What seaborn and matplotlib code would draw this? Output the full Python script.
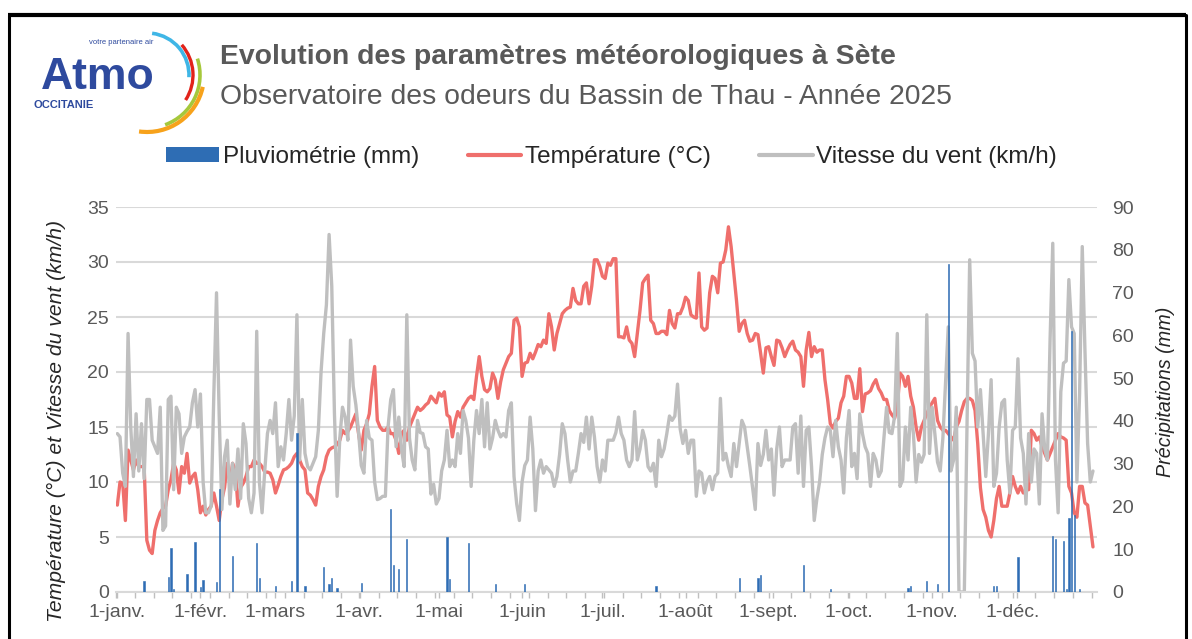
import numpy as np
import pandas as pd
import seaborn as sns
import matplotlib.pyplot as plt
from matplotlib.patches import Arc, Patch
from matplotlib.lines import Line2D

# daily values (1 Jan -> 31 Dec 2025)
temperature = [
    7.9, 10.0, 9.9, 6.5, 12.9, 12.0, 11.1, 12.0, 11.4, 11.4,
    11.4, 4.7, 3.8, 3.5, 5.6, 6.5, 7.2, 7.6, 7.8, 9.3,
    10.2, 11.7, 11.1, 9.0, 11.4, 10.8, 12.6, 9.9, 10.5, 10.8,
    9.3, 7.2, 7.8, 7.0, 7.5, 7.8, 9.0, 7.8, 6.5, 8.4,
    9.5, 11.7, 9.9, 11.7, 11.1, 7.8, 9.5, 9.9, 10.5, 11.4,
    11.4, 12.0, 11.7, 11.7, 11.4, 10.9, 10.9, 10.8, 10.2, 9.0,
    9.7, 10.5, 11.1, 11.2, 11.4, 11.7, 12.3, 12.6, 12.0, 11.4,
    11.1, 9.0, 8.8, 8.4, 7.9, 9.6, 10.5, 11.1, 12.3, 12.9,
    13.1, 13.2, 13.4, 13.8, 14.7, 14.4, 14.6, 15.0, 15.6, 16.2,
    14.4, 12.9, 14.7, 15.3, 16.2, 18.7, 20.5, 15.6, 15.0, 14.7,
    14.7, 15.0, 14.4, 14.4, 13.8, 12.6, 14.4, 14.7, 13.8, 15.0,
    15.6, 16.2, 16.8, 16.5, 16.7, 17.0, 17.2, 17.8, 17.5, 17.2,
    18.1, 17.8, 18.2, 16.1, 15.9, 14.1, 15.5, 16.4, 15.9, 16.8,
    17.2, 17.6, 17.8, 17.5, 19.6, 21.4, 19.6, 18.4, 18.2, 18.5,
    19.9, 19.3, 17.6, 19.1, 20.2, 20.8, 21.4, 21.7, 24.7, 24.9,
    24.1, 19.6, 20.8, 20.9, 21.7, 21.2, 21.8, 22.5, 22.3, 22.9,
    22.6, 25.3, 24.1, 22.0, 23.5, 24.4, 25.3, 25.6, 25.8, 25.9,
    27.6, 26.5, 26.2, 26.2, 27.8, 28.1, 26.2, 27.8, 30.2, 30.2,
    29.6, 28.7, 28.5, 29.9, 29.7, 30.3, 30.3, 23.2, 23.2, 23.1,
    24.1, 22.9, 22.6, 21.4, 23.5, 25.6, 28.1, 28.5, 28.8, 24.7,
    24.4, 23.5, 23.5, 23.7, 23.7, 23.4, 25.6, 24.4, 24.0, 25.3,
    25.3, 25.9, 26.8, 26.5, 25.2, 25.0, 24.9, 29.0, 24.1, 23.8,
    24.0, 27.2, 28.7, 28.5, 27.2, 29.9, 30.0, 31.1, 33.2, 31.4,
    29.0, 26.5, 23.7, 24.4, 24.7, 23.5, 22.8, 22.9, 23.5, 23.4,
    21.7, 19.9, 22.2, 22.3, 21.4, 20.6, 22.9, 22.8, 22.2, 21.4,
    22.0, 22.5, 22.8, 22.0, 21.8, 21.4, 18.7, 22.0, 23.6, 21.4,
    22.3, 21.8, 22.0, 22.0, 19.3, 17.5, 15.3, 14.9, 15.5, 15.8,
    17.2, 17.8, 19.6, 19.6, 19.0, 17.6, 17.6, 20.3, 16.4, 18.0,
    18.1, 18.3, 18.9, 19.3, 18.5, 18.1, 17.5, 17.5, 16.5, 16.1,
    15.8, 16.8, 19.9, 19.6, 18.7, 19.6, 17.8, 16.8, 15.0, 13.8,
    15.0, 15.6, 16.2, 16.8, 17.2, 17.6, 15.6, 15.0, 14.7, 14.7,
    14.4, 14.1, 13.8, 15.0, 15.5, 16.5, 17.3, 17.6, 17.6, 17.4,
    16.5, 13.5, 9.5, 7.5, 6.8, 5.6, 5.0, 6.5, 8.5, 9.6,
    7.8, 7.8, 7.8, 9.0, 10.5, 9.6, 9.0, 9.6, 9.0, 9.3,
    9.3, 14.7, 14.4, 13.8, 14.1, 13.2, 12.6, 12.0, 12.6, 13.2,
    13.8, 14.4, 14.1, 14.0, 13.8, 9.6, 9.0, 7.2, 6.8, 9.6,
    9.6, 8.1, 7.9, 6.0, 4.1,
]

wind_speed = [
    14.4, 14.1, 10.8, 9.6, 23.5, 15.0, 10.5, 16.2, 11.0, 15.3,
    10.3, 17.5, 17.5, 13.8, 13.2, 12.6, 16.8, 5.6, 6.0, 17.5,
    17.8, 9.3, 16.8, 16.2, 12.6, 14.1, 14.6, 15.0, 17.2, 18.4,
    15.0, 18.0, 10.0, 7.2, 7.2, 7.8, 18.0, 27.2, 16.0, 7.5,
    12.3, 13.8, 8.0, 11.7, 9.3, 13.0, 8.5, 15.3, 13.5, 8.5,
    7.2, 9.0, 23.7, 10.0, 7.2, 11.0, 14.4, 15.6, 14.4, 17.2,
    11.4, 13.2, 12.0, 14.4, 17.5, 13.8, 16.0, 25.2, 12.0, 17.5,
    12.6, 11.4, 11.1, 11.7, 12.3, 14.7, 20.0, 23.5, 26.1, 32.5,
    27.8, 16.2, 8.7, 14.0, 16.8, 15.9, 13.8, 22.9, 18.7, 17.0,
    14.5, 11.5, 10.8, 15.6, 14.0, 13.8, 10.0, 8.4, 8.5, 8.7,
    8.7, 15.0, 17.5, 18.4, 13.2, 15.9, 13.0, 11.4, 25.2, 14.0,
    12.0, 11.1, 15.6, 14.5, 14.4, 13.2, 13.0, 8.9, 9.8, 8.0,
    8.5, 11.0, 12.0, 14.7, 11.4, 12.0, 11.4, 14.4, 12.6, 16.5,
    15.6, 14.0, 9.6, 13.8, 16.5, 14.4, 17.5, 13.2, 17.2, 13.0,
    14.0, 15.6, 14.7, 14.1, 14.4, 14.1, 16.5, 17.2, 10.5, 8.0,
    6.5, 10.0, 11.5, 12.0, 15.9, 13.0, 7.4, 11.0, 12.0, 10.8,
    11.4, 11.1, 10.8, 9.6, 10.5, 12.5, 15.3, 14.4, 12.0, 10.0,
    11.0, 11.0, 12.6, 14.4, 13.6, 15.9, 13.0, 15.9, 14.1, 11.4,
    10.0, 12.0, 11.0, 13.8, 13.8, 13.8, 14.5, 15.9, 14.4, 13.8,
    12.0, 11.4, 12.0, 16.4, 12.0, 13.0, 14.7, 13.8, 11.4, 11.0,
    11.7, 9.6, 13.8, 12.3, 13.0, 14.4, 16.0, 15.6, 16.0, 18.9,
    14.8, 13.5, 14.7, 12.6, 13.8, 13.8, 8.7, 11.0, 10.8, 9.0,
    10.0, 10.5, 9.3, 10.5, 10.8, 17.6, 12.0, 12.6, 11.4, 10.5,
    13.5, 11.4, 13.5, 15.6, 15.0, 13.2, 11.4, 9.5, 7.5, 13.5,
    11.5, 12.5, 14.7, 12.0, 13.0, 8.8, 13.0, 15.0, 11.4, 12.0,
    12.0, 12.0, 15.0, 15.3, 10.8, 16.0, 9.6, 14.7, 15.0, 11.4,
    6.5, 8.5, 10.0, 12.5, 14.0, 15.0, 14.7, 12.3, 15.6, 13.2,
    12.0, 9.0, 14.0, 16.5, 11.4, 12.6, 10.3, 16.2, 14.4, 13.2,
    12.6, 9.6, 12.6, 12.0, 10.5, 11.0, 14.0, 16.8, 14.5, 14.4,
    16.0, 23.5, 9.6, 10.2, 15.0, 12.0, 16.8, 14.4, 10.0, 12.5,
    11.8, 12.5, 25.2, 12.6, 16.8, 14.4, 11.8, 11.0, 14.0, 19.0,
    24.1, 11.0, 12.0, 16.8, 0.0, 0.0, 0.0, 15.0, 30.2, 21.7,
    21.0, 15.0, 18.4, 14.4, 10.5, 14.4, 19.3, 9.6, 10.8, 15.0,
    17.2, 17.5, 12.0, 9.0, 14.7, 15.0, 21.2, 14.0, 12.6, 8.0,
    14.4, 10.0, 13.0, 12.6, 8.0, 16.2, 13.0, 12.0, 23.0, 31.7,
    12.0, 7.2, 18.2, 20.8, 21.0, 28.4, 24.1, 23.5, 10.0, 18.0,
    31.4, 22.0, 13.5, 10.0, 11.0,
]

# rainy days (day of year, 0 = 1 Jan) and rainfall in mm
rain_day = [10, 19, 20, 21, 26, 29, 31, 32, 37, 38,
            43, 52, 53, 59, 65, 67, 70, 77, 79, 80,
            82, 91, 102, 103, 105, 108, 123, 124, 131, 141,
            152, 201, 232, 239, 240, 256, 266, 295, 296, 302,
            306, 310, 327, 328, 336, 349, 350, 353, 354, 355,
            356, 357, 359]
rain_mm = [2.6, 3.4, 10.4, 0.7, 4.3, 11.8, 1.2, 2.9, 2.3, 24.0,
           8.4, 11.4, 3.2, 1.5, 2.6, 37.1, 1.5, 5.9, 1.8, 3.2,
           1.0, 2.0, 19.3, 6.3, 5.4, 12.3, 12.9, 3.0, 11.5, 1.8,
           1.8, 1.5, 3.2, 3.3, 4.0, 6.2, 0.6, 1.0, 1.5, 2.6,
           1.8, 76.6, 1.5, 1.5, 8.1, 13.2, 12.5, 12.0, 0.6, 17.2,
           61.1, 18.0, 0.7]

month_labels = ["1-janv.", "1-févr.", "1-mars", "1-avr.", "1-mai", "1-juin",
                "1-juil.", "1-août", "1-sept.", "1-oct.", "1-nov.", "1-déc."]

dates = pd.date_range("2025-01-01", "2025-12-31", freq="D")
df = pd.DataFrame({"day": np.arange(len(dates)), "temp": temperature, "wind": wind_speed})
rain = np.zeros(len(dates))
rain[rain_day] = rain_mm
df["rain"] = rain
month_pos = np.where(dates.day == 1)[0]

sns.set_theme(style="white")
plt.rcParams["font.family"] = ["Liberation Sans", "DejaVu Sans"]

W, H = 1192, 639
fig = plt.figure(figsize=(W / 100, H / 100), dpi=100)

# overlay in pixel coords for frame + logo
ov = fig.add_axes([0, 0, 1, 1], zorder=-1)
ov.set_xlim(0, W)
ov.set_ylim(0, H)
ov.axis("off")
ov.plot([8, 1186], [H - 15, H - 15], color="black", lw=3, solid_capstyle="butt")
ov.plot([9, 9], [0, H - 15], color="black", lw=2.2)
ov.plot([1186, 1186], [0, H - 15], color="black", lw=2.2)
cx, cy = 147, H - 75
for r, t1, t2, c, lw in [(42, -3, 83, "#3fb6e6", 2.6), (46, -33, 41, "#e2231a", 2.4),
                         (53, -70, 18, "#a6c83b", 2.6), (57, -98, -12, "#f7a21b", 3.0)]:
    ov.add_patch(Arc((cx, cy), 2 * r, 2 * r, theta1=t1, theta2=t2, color=c, lw=lw))

fig.text(41 / W, 1 - 89 / H, "Atmo", fontsize=32, fontweight="bold", color="#2e4a9e",
         va="baseline", ha="left")
fig.text(33 / W, 1 - 105 / H, "OCCITANIE", fontsize=8, fontweight="bold", color="#2e4a9e",
         va="center", ha="left")
fig.text(89 / W, 1 - 42 / H, "votre partenaire air", fontsize=5.5, color="#2e4a9e",
         va="center", ha="left")

fig.text(220 / W, 1 - 57 / H, "Evolution des paramètres météorologiques à Sète",
         fontsize=20.4, fontweight="bold", color="#595959", va="center", ha="left")
fig.text(220 / W, 1 - 97 / H, "Observatoire des odeurs du Bassin de Thau - Année 2025",
         fontsize=20.4, color="#595959", va="center", ha="left")

ax = fig.add_axes([116 / W, 47 / H, 981 / W, 385 / H])
ax2 = ax.twinx()

sns.lineplot(data=df, x="day", y="temp", ax=ax, color="#ef6f6c", linewidth=2.4)
sns.lineplot(data=df, x="day", y="wind", ax=ax, color="#bfbfbf", linewidth=2.4)
ax2.bar(df["day"], df["rain"], width=0.5, color="#2e6db4", edgecolor="#2e6db4", linewidth=0.4)

ax.set_xlim(-0.5, 365.5)
ax.set_ylim(0, 35)
ax2.set_ylim(0, 90)
ax.set_yticks(range(0, 36, 5))
ax2.set_yticks(range(0, 91, 10))
ax.yaxis.grid(True, color="#d9d9d9", lw=1.5)
ax.xaxis.grid(False)
ax.set_axisbelow(True)

ax.set_xticks(month_pos)
ax.set_xticklabels(month_labels)
ax.set_xticks(np.arange(-0.5, 366, 7), minor=True)
ax.tick_params(axis="x", which="both", bottom=True, length=4.5, width=1, color="#bfbfbf",
               labelsize=14, labelcolor="#595959", pad=4)
ax.tick_params(axis="y", length=0, labelsize=14, labelcolor="#595959", pad=5)
ax2.tick_params(axis="y", length=0, labelsize=14, labelcolor="#595959", pad=11)

for a in (ax, ax2):
    for s in ("top", "left", "right"):
        a.spines[s].set_visible(False)
ax.spines["bottom"].set_color("#d9d9d9")
ax.spines["bottom"].set_linewidth(1.5)
ax2.spines["bottom"].set_visible(False)

ax.set_xlabel("")
ax.set_ylabel("Température (°C) et Vitesse du vent (km/h)", fontsize=15.2, style="italic", color="#262626")
ax.yaxis.set_label_coords(-0.051, 0.444)
ax2.set_ylabel("Précipitations (mm)", fontsize=14.2, style="italic", color="#262626")
ax2.yaxis.set_label_coords(1.060, 0.52)

handles = [Patch(facecolor="#2e6db4", edgecolor="none"),
           Line2D([], [], color="#ef6f6c", lw=3),
           Line2D([], [], color="#bfbfbf", lw=3)]
labels = ["Pluviométrie (mm)", "Température (°C)", "Vitesse du vent (km/h)"]
fig.legend(handles, labels, loc="center", bbox_to_anchor=(0.513, 1 - 157 / H), ncol=3,
           frameon=False, fontsize=17.5, handlelength=2.2, handleheight=0.6,
           handletextpad=0.15, columnspacing=2.0, labelcolor="#262626")

fig.savefig("out.png", dpi=100)
